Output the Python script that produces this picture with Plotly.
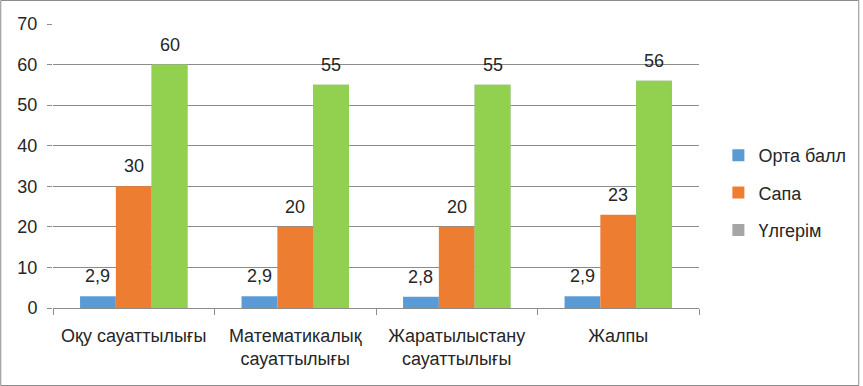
import plotly.graph_objects as go

categories = ["Оқу сауаттылығы", "Математикалық<br>сауаттылығы", "Жаратылыстану<br>сауаттылығы", "Жалпы"]
orta_ball = [2.9, 2.9, 2.8, 2.9]
sapa = [30, 20, 20, 23]
ulgerim = [60, 55, 55, 56]
y_ticks = [0, 10, 20, 30, 40, 50, 60, 70]

FONT = "Liberation Sans"
FS = 18
TXT = "#262626"
GRID = "#8c8c8c"

fig = go.Figure()
series = [
    ("Орта балл", orta_ball, "#5B9BD5", "g1", "1"),
    ("Сапа", sapa, "#ED7D31", "g2", "2"),
    ("Үлгерім", ulgerim, "#A5A5A5", "g3", "3"),
]
for name, vals, col, grp, og in series:
    fig.add_trace(go.Bar(x=categories, y=vals, name=name, marker_color=col,
                         marker_line_width=0, legendgroup=grp, offsetgroup=og,
                         hoverinfo="skip"))
# green bars drawn over the grey legend trace
fig.add_trace(go.Bar(x=categories, y=ulgerim, name="Үлгерім", marker_color="#92D050",
                     marker_line_width=0, legendgroup="g3", offsetgroup="3",
                     showlegend=False, hoverinfo="skip"))

def fmt(v):
    return ("%g" % v).replace(".", ",")

bar_px = 36
for k, (name, vals, col, grp, og) in enumerate(series):
    for i, v in enumerate(vals):
        fig.add_annotation(x=i, y=v, xref="x", yref="y", text=fmt(v), showarrow=False,
                           xshift=(k - 1) * bar_px, yshift=8, yanchor="bottom",
                           font=dict(family=FONT, size=FS, color=TXT))

fig.update_layout(
    width=863, height=386,
    margin=dict(l=53, r=161, t=24, b=78),
    paper_bgcolor="white", plot_bgcolor="white",
    barmode="group", bargap=0.335, bargroupgap=0,
    font=dict(family=FONT, size=FS, color=TXT),
    showlegend=True,
    legend=dict(x=1.03, xanchor="left", y=0.405, yanchor="middle",
                tracegroupgap=11, font=dict(family=FONT, size=FS, color=TXT),
                itemwidth=30, bgcolor="rgba(0,0,0,0)"),
    xaxis=dict(type="category", showline=True, linecolor=GRID, linewidth=1,
               ticks="outside", tickson="boundaries", ticklen=6, tickcolor=GRID,
               showgrid=False, ticklabelstandoff=11,
               tickfont=dict(family=FONT, size=FS, color=TXT)),
    yaxis=dict(range=[0, 70], tickvals=y_ticks, showgrid=True, gridcolor=GRID,
               gridwidth=1, zeroline=False, showline=False, ticks="outside",
               ticklen=5, tickcolor=GRID, ticklabelstandoff=6,
               tickfont=dict(family=FONT, size=FS, color=TXT)),
    shapes=[dict(type="rect", xref="paper", yref="paper",
                 x0=-52.5 / 649, x1=(862.5 - 53) / 649,
                 y0=-(385.5 - 308) / 284, y1=1 + (24 - 0.5) / 284,
                 line=dict(color="#8c8c8c", width=1), fillcolor="rgba(0,0,0,0)",
                 layer="below")],
)

fig.write_html("out.html", config={"displayModeBar": False},
               post_script="document.body.style.margin='0';")
